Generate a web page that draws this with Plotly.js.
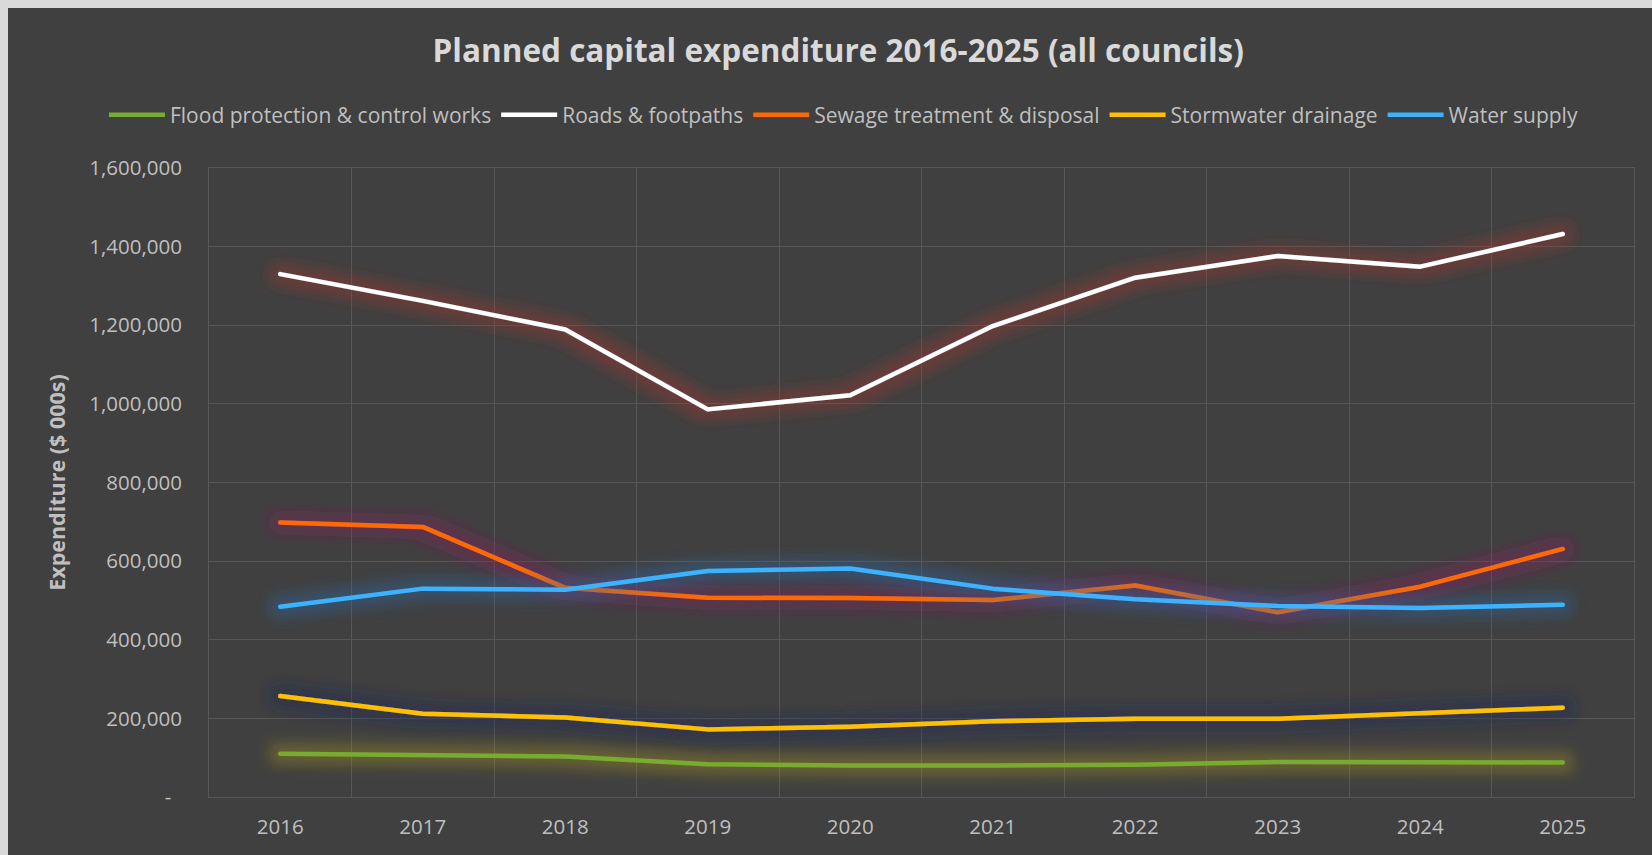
<!DOCTYPE html>
<html>
<head>
<meta charset="utf-8">
<script src="https://cdn.plot.ly/plotly-3.0.1.min.js"></script>
<style>
  html, body { margin: 0; padding: 0; background: #d9d9d9; width: 1652px; height: 855px; overflow: hidden; }
  #chart { position: absolute; left: 8px; top: 8px; width: 1644px; height: 847px; }
</style>
</head>
<body>
<div id="chart"></div>
<script>
// ---- data ($000s) ----
const years = ['2016', '2017', '2018', '2019', '2020', '2021', '2022', '2023', '2024', '2025'];
const seriesNames = ['Flood protection & control works', 'Roads & footpaths', 'Sewage treatment & disposal', 'Stormwater drainage', 'Water supply'];
const flood  = [110000, 106000, 103000, 83000, 80000, 80000, 82000, 89000, 88000, 88000];
const roads  = [1330000, 1262000, 1189000, 986000, 1022000, 1198000, 1321000, 1376000, 1349000, 1432000];
const sewage = [698000, 687000, 532000, 507000, 506000, 501000, 538000, 470000, 535000, 631000];
const storm  = [257000, 212000, 202000, 172000, 179000, 193000, 199000, 199000, 213000, 227000];
const water  = [484000, 530000, 527000, 575000, 581000, 530000, 503000, 486000, 481000, 489000];
const yTickVals = [0, 200000, 400000, 600000, 800000, 1000000, 1200000, 1400000, 1600000];
const yTickText = ['-\u00a0\u00a0', '200,000', '400,000', '600,000', '800,000', '1,000,000', '1,200,000', '1,400,000', '1,600,000'];

// ---- styles ----
const lineColors = ['#77AC2F', '#FFFFFF', '#FF6A00', '#FFC000', '#3DB2FF'];
const glowColors = ['#A8941C', '#A8362E', '#8E1C60', '#18255A', '#2C68A8'];
const glowOpacity = [0.4, 0.4, 0.42, 0.45, 0.42];
const allValues = [flood, roads, sewage, storm, water];

const traces = allValues.map((vals, i) => ({
  type: 'scatter',
  mode: 'lines',
  x: years,
  y: vals,
  name: seriesNames[i],
  line: { color: lineColors[i], width: 4.5 },
  hoverinfo: 'skip'
}));

const gridCol = '#575757';
const tickFont = { family: 'Open Sans, sans-serif', size: 20.5, color: '#bfbfbf' };

const layout = {
  width: 1644,
  height: 847,
  paper_bgcolor: '#404040',
  plot_bgcolor: '#404040',
  margin: { l: 201, r: 18, t: 160, b: 57.5, autoexpand: false },
  showlegend: true,
  title: {
    text: '<b>Planned capital expenditure 2016-2025 (all councils)</b>',
    font: { family: 'Open Sans, sans-serif', size: 31.5, color: '#d9d9d9' },
    x: 0.505, xref: 'container', xanchor: 'center',
    y: 0.9497, yref: 'container', yanchor: 'middle'
  },
  legend: {
    orientation: 'h',
    x: -0.0737, xref: 'paper', xanchor: 'left',
    y: 1.0842, yref: 'paper', yanchor: 'middle',
    font: { family: 'Open Sans, sans-serif', size: 21, color: '#bfbfbf' },
    bgcolor: 'rgba(0,0,0,0)',
    itemwidth: 56,
    tracegroupgap: 0
  },
  xaxis: {
    type: 'category',
    range: [-0.5, 9.5],
    tickson: 'boundaries',
    showgrid: true,
    gridcolor: gridCol,
    gridwidth: 1,
    showline: true,
    linecolor: gridCol,
    mirror: true,
    ticks: '',
    tickfont: tickFont,
    ticklabelstandoff: 11,
    zeroline: false,
    fixedrange: true
  },
  yaxis: {
    range: [0, 1600000],
    tickvals: yTickVals,
    ticktext: yTickText,
    showgrid: true,
    gridcolor: gridCol,
    gridwidth: 1,
    showline: true,
    linecolor: gridCol,
    mirror: true,
    zeroline: false,
    ticks: '',
    tickfont: tickFont,
    ticklabelstandoff: 22,
    automargin: true,
    title: {
      text: '<b>Expenditure ($ 000s)</b>',
      font: { family: 'Open Sans, sans-serif', size: 21.5, color: '#bfbfbf' },
      standoff: 17
    },
    fixedrange: true
  }
};

Plotly.newPlot('chart', traces, layout, { displayModeBar: false, staticPlot: true }).then(gd => {
  const svgNS = 'http://www.w3.org/2000/svg';
  const svg = gd.querySelector('svg.main-svg');
  let defs = svg.querySelector('defs');
  if (!defs) { defs = document.createElementNS(svgNS, 'defs'); svg.insertBefore(defs, svg.firstChild); }
  glowColors.forEach((c, i) => {
    const f = document.createElementNS(svgNS, 'filter');
    f.setAttribute('id', 'glow' + i);
    f.setAttribute('filterUnits', 'userSpaceOnUse');
    f.setAttribute('x', '-300'); f.setAttribute('y', '-300');
    f.setAttribute('width', '2400'); f.setAttribute('height', '1500');
    f.innerHTML =
      '<feMorphology in="SourceAlpha" operator="dilate" radius="8" result="d"/>' +
      '<feGaussianBlur in="d" stdDeviation="7" result="b"/>' +
      '<feFlood flood-color="' + c + '" flood-opacity="' + glowOpacity[i] + '"/>' +
      '<feComposite in2="b" operator="in" result="g"/>' +
      '<feMerge><feMergeNode in="g"/><feMergeNode in="SourceGraphic"/></feMerge>';
    defs.appendChild(f);
  });
  gd.querySelectorAll('.scatterlayer .trace').forEach((t, i) => {
    const p = t.querySelector('path.js-line');
    if (p) {
      p.setAttribute('filter', 'url(#glow' + i + ')');
      p.style.strokeLinecap = 'round';
      p.style.strokeLinejoin = 'round';
    }
  });
});
</script>
</body>
</html>
